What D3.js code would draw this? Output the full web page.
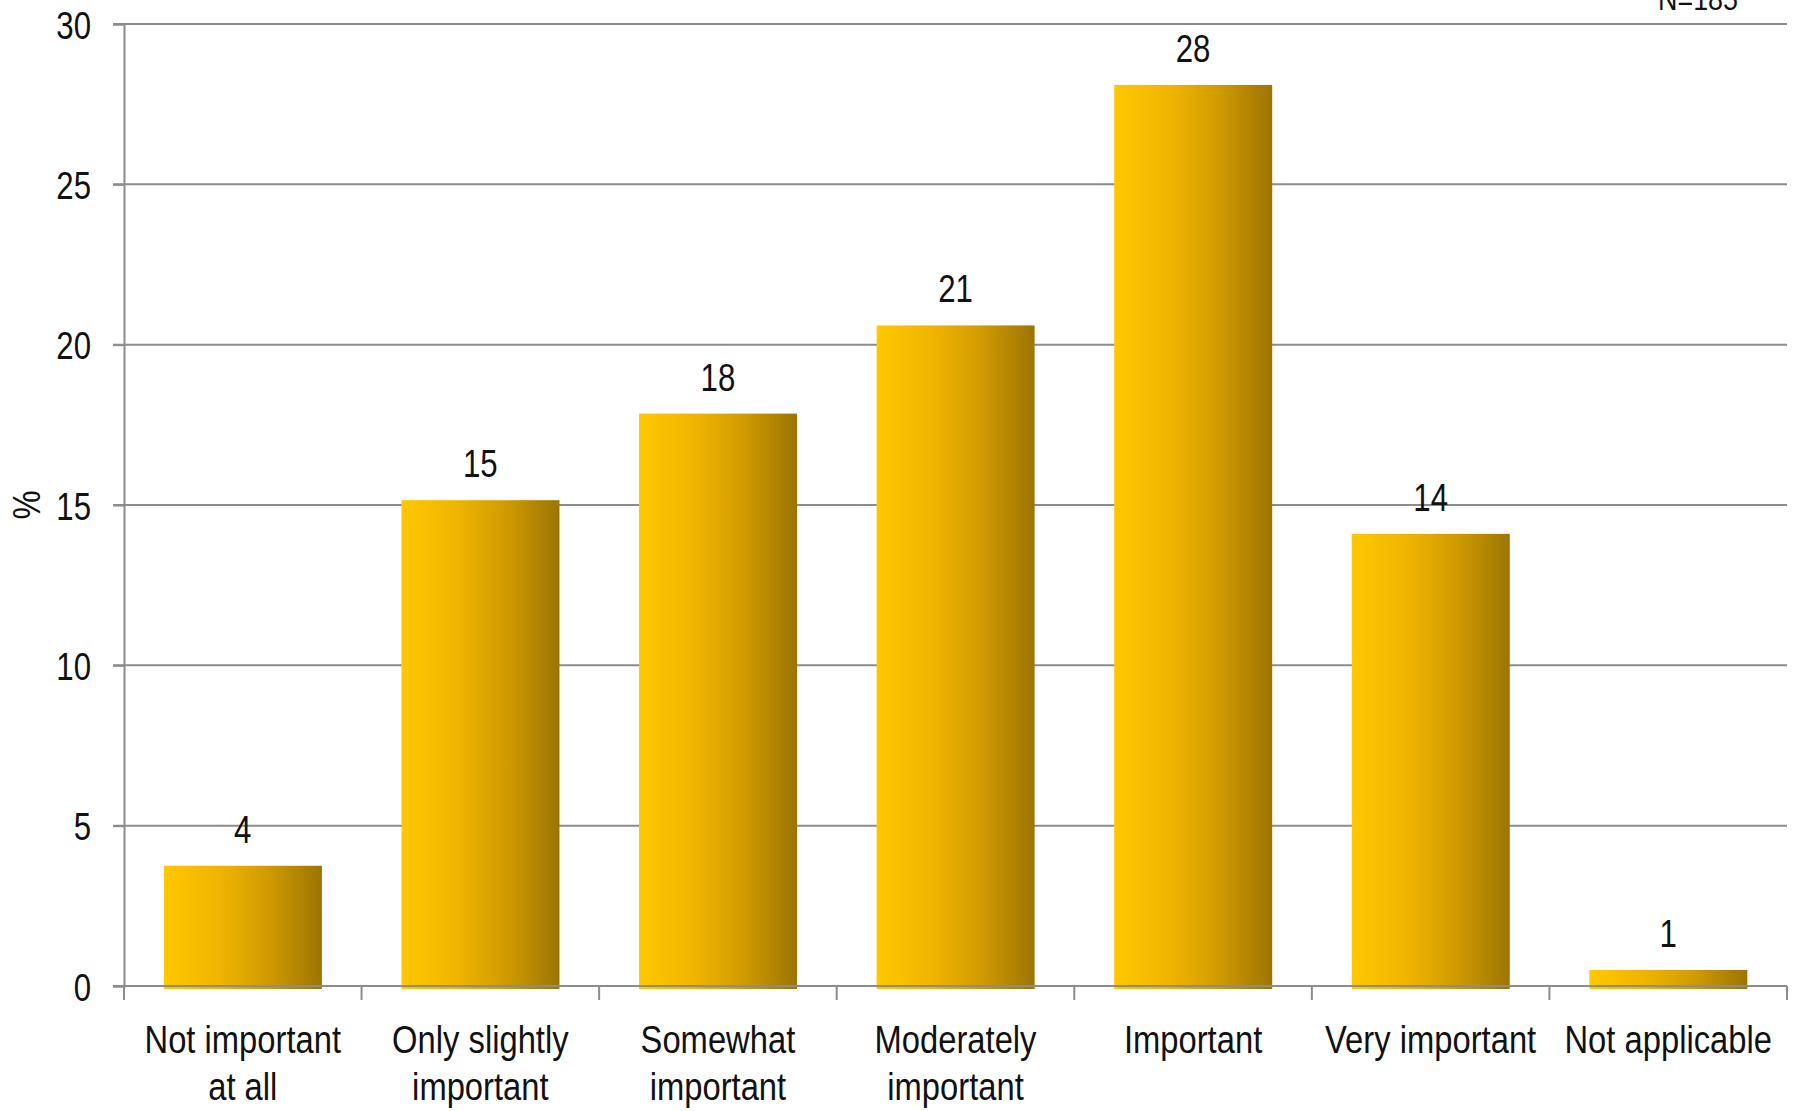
<!DOCTYPE html>
<html><head><meta charset="utf-8">
<script src="https://cdn.jsdelivr.net/npm/d3@7"></script>
<style>
html,body{margin:0;padding:0;background:#fff;}
svg text{font-family:"Liberation Sans",Arial,sans-serif;fill:#111;}
</style></head>
<body>
<svg id="c" width="1799" height="1111"></svg>
<script>
const categories = ["Not important at all","Only slightly important","Somewhat important","Moderately important","Important","Very important","Not applicable"];
const categoryLines = [["Not important","at all"],["Only slightly","important"],["Somewhat","important"],["Moderately","important"],["Important"],["Very important"],["Not applicable"]];
const values = [3.75, 15.15, 17.85, 20.6, 28.1, 14.1, 0.5];
const valueLabels = ["4","15","18","21","28","14","1"];
const yTicks = [0,5,10,15,20,25,30];
const note = "N=185";
const yTitle = "%";

(function(){
const svg = d3.select("#c");
const pLeft = 124, pRight = 1787, pTop = 24, pBottom = 986;
const gridColor = "#8c8c8c";
const fs = 39;

const x = d3.scaleBand().domain(categories).range([pLeft, pRight]).padding(0);
const y = d3.scaleLinear().domain([0, 30]).range([pBottom, pTop]);

const defs = svg.append("defs");
const grad = defs.append("linearGradient").attr("id","g").attr("x1","0").attr("x2","1").attr("y1","0").attr("y2","0");
[[0,"#ffc800"],[0.35,"#f0b400"],[0.65,"#d29c00"],[1,"#9c7400"]].forEach(([o,c])=>grad.append("stop").attr("offset",o).attr("stop-color",c));

// gridlines
svg.append("g").selectAll("line").data(yTicks.filter(t=>t>0)).join("line")
  .attr("x1", pLeft-11).attr("x2", pRight).attr("y1", d=>y(d)).attr("y2", d=>y(d))
  .attr("stroke", gridColor).attr("stroke-width", 2);

// bars
const bw = x.bandwidth();
svg.append("g").selectAll("rect").data(values).join("rect")
  .attr("x", (d,i)=>x(categories[i]) + bw*0.168)
  .attr("width", bw*0.665)
  .attr("y", d=>y(d))
  .attr("height", d=>y(0)-y(d)+3)
  .attr("fill","url(#g)");

// y axis
const yAxis = d3.axisLeft(y).tickValues(yTicks).tickSize(11).tickPadding(22).tickFormat(d3.format("d"));
const ya = svg.append("g").attr("transform",`translate(${pLeft},0)`).call(yAxis);
ya.select(".domain").attr("stroke",gridColor).attr("stroke-width",2);
ya.selectAll(".tick line").attr("stroke",gridColor).attr("stroke-width",2);
ya.selectAll(".tick text").attr("font-size",fs).attr("fill","#111").attr("dy","0.36em")
  .style("font-family",'"Liberation Sans",Arial,sans-serif')
  .attr("x",0).attr("transform","translate(-33,0) scale(0.8,1)");

// x axis line + ticks
const xa = svg.append("g");
xa.append("line").attr("x1",pLeft-11).attr("x2",pRight).attr("y1",y(0)).attr("y2",y(0)).attr("stroke",gridColor).attr("stroke-width",2);
const bounds = categories.map(c=>x(c)).concat([pRight]);
xa.selectAll("line.tk").data(bounds).join("line").attr("class","tk")
  .attr("x1",d=>d).attr("x2",d=>d).attr("y1",y(0)).attr("y2",y(0)+14)
  .attr("stroke",gridColor).attr("stroke-width",2);

// category labels
const lab = svg.append("g");
categoryLines.forEach((lines,i)=>{
  lines.forEach((l,j)=>{
    lab.append("text").attr("text-anchor","middle").attr("font-size",fs)
      .attr("transform",`translate(${x(categories[i]) + bw/2},${1053 + j*47}) scale(0.84,1)`).text(l);
  });
});

// value labels
svg.append("g").selectAll("text").data(values).join("text")
  .attr("text-anchor","middle").attr("font-size",fs)
  .attr("transform",(d,i)=>`translate(${x(categories[i])+bw/2},${y(d)-23}) scale(0.8,1)`)
  .text((d,i)=>valueLabels[i]);

// y title
svg.append("text").attr("font-size",fs).attr("text-anchor","middle")
  .attr("transform",`translate(40,${y(15)}) rotate(-90) scale(0.84,1)`).text(yTitle);

// note
svg.append("text").attr("font-size",32).attr("text-anchor","middle")
  .attr("transform","translate(1698,10) scale(0.84,1)").text(note);
})();
</script>
</body></html>
